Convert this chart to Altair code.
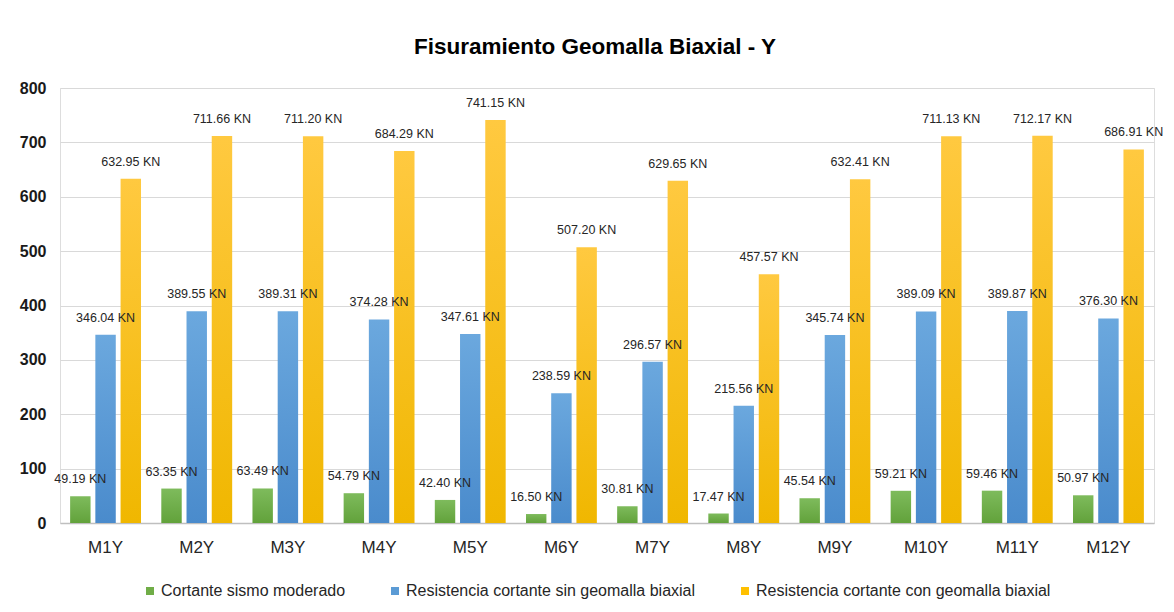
import altair as alt
import pandas as pd

categories = ["M1Y", "M2Y", "M3Y", "M4Y", "M5Y", "M6Y", "M7Y", "M8Y", "M9Y", "M10Y", "M11Y", "M12Y"]
cortante_sismo = [49.19, 63.35, 63.49, 54.79, 42.40, 16.50, 30.81, 17.47, 45.54, 59.21, 59.46, 50.97]
sin_geomalla = [346.04, 389.55, 389.31, 374.28, 347.61, 238.59, 296.57, 215.56, 345.74, 389.09, 389.87, 376.30]
con_geomalla = [632.95, 711.66, 711.20, 684.29, 741.15, 507.20, 629.65, 457.57, 632.41, 711.13, 712.17, 686.91]
series = [
    "Cortante sismo moderado",
    "Resistencia cortante sin geomalla biaxial",
    "Resistencia cortante con geomalla biaxial",
]
colors = ["#70AD47", "#5B9BD5", "#FFC000"]
grad_top = ["#7EBB5C", "#6BA8DE", "#FFC940"]
grad_bottom = ["#62A23B", "#4A8BCC", "#F0B700"]

rows = []
for s, vals in zip(series, [cortante_sismo, sin_geomalla, con_geomalla]):
    for c, v in zip(categories, vals):
        rows.append({"cat": c, "serie": s, "value": v, "label": f"{v:.2f} KN"})
df = pd.DataFrame(rows)

FONT = "Liberation Sans, Arial, sans-serif"

x_enc = alt.X(
    "cat:N",
    sort=categories,
    scale=alt.Scale(paddingInner=0.2225, paddingOuter=0.111),
    axis=alt.Axis(
        title=None, labelAngle=0, ticks=False, grid=False,
        domainColor="#BFBFBF", domainWidth=1.5,
        labelFont=FONT, labelFontSize=17, labelColor="#262626",
        labelPadding=16,
    ),
)
xo_enc = alt.XOffset("serie:N", sort=series, scale=alt.Scale(domain=series, paddingInner=0.19, paddingOuter=0))
y_enc = alt.Y(
    "value:Q",
    scale=alt.Scale(domain=[0, 800]),
    axis=alt.Axis(
        title=None, values=[0, 100, 200, 300, 400, 500, 600, 700, 800],
        domain=False, ticks=False, gridColor="#D9D9D9", gridWidth=1.2,
        labelFont=FONT, labelFontSize=16, labelFontWeight="bold",
        labelColor="#1a1a1a", labelPadding=14,
    ),
)

base = alt.Chart(df)

layers = []
for s, t, b in zip(series, grad_top, grad_bottom):
    grad = {
        "gradient": "linear", "x1": 0, "y1": 0, "x2": 0, "y2": 1,
        "stops": [{"offset": 0, "color": t}, {"offset": 1, "color": b}],
    }
    layers.append(
        base.transform_filter(alt.datum.serie == s)
        .mark_bar(color=grad)
        .encode(x=x_enc, xOffset=xo_enc, y=y_enc)
    )

labels = base.mark_text(
    font=FONT, fontSize=12.5, color="#262626", baseline="middle", dy=-17
).encode(x=x_enc, xOffset=xo_enc, y=y_enc, text="label:N")

legend_layer = base.mark_square(opacity=0).encode(
    x=x_enc, xOffset=xo_enc, y=y_enc,
    color=alt.Color(
        "serie:N", sort=series,
        scale=alt.Scale(domain=series, range=colors),
        legend=alt.Legend(
            title=None, orient="none", direction="horizontal", columns=3,
            legendX=82, legendY=495, symbolType="square", symbolSize=64,
            symbolOpacity=1, symbolStrokeWidth=0, labelFont=FONT,
            labelFontSize=16, labelColor="#262626", labelOffset=3,
            columnPadding=41, labelLimit=0,
        ),
    ),
)

chart = alt.layer(*layers, labels, legend_layer).properties(
    width=1094,
    height=435,
    autosize=alt.AutoSizeParams(type="none"),
    padding={"left": 52, "top": 80, "right": 12, "bottom": 81},
    title=alt.TitleParams(
        "Fisuramiento Geomalla Biaxial - Y",
        font="Liberation Sans", fontSize=22.5, fontWeight="bold", color="#000000",
        anchor="middle", baseline="alphabetic", offset=4, dx=-12,
    ),
).configure_view(stroke=None).configure(background="white")

chart.save("out.html", embed_options={"renderer": "svg", "actions": False})
